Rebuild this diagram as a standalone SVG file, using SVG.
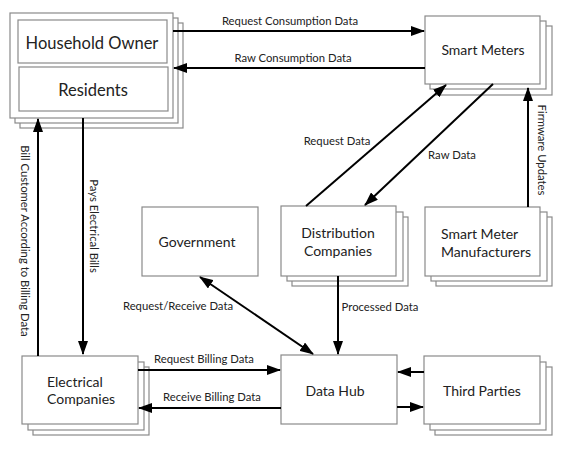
<svg xmlns="http://www.w3.org/2000/svg" width="566" height="449" viewBox="0 0 566 449">
<style>
.box{fill:#fff;stroke:#8a8a8a;stroke-width:1.2}
.t{font-family:Lato,"Open Sans",sans-serif;fill:#222}
.n{font-size:14px;text-anchor:middle}
.big{font-size:16.5px;text-anchor:middle}
.l{font-size:11.3px;text-anchor:middle}
.c{stroke:#000;stroke-width:2;fill:none}
</style>
<defs>
<marker id="ah" markerUnits="userSpaceOnUse" markerWidth="14" markerHeight="10" refX="13" refY="5" orient="auto-start-reverse"><path d="M0,0 L14,5 L0,10 z" fill="#000"/></marker>
</defs>
<rect width="566" height="449" fill="#fff"/>
<g id="household">
<rect class="box" x="20" y="23" width="163" height="105"/>
<rect class="box" x="15" y="18" width="163" height="105"/>
<rect class="box" x="10" y="13" width="163" height="105"/>
<rect class="box" x="18" y="20" width="149" height="43"/>
<text class="t big" x="92" y="49">Household Owner</text>
<rect class="box" x="19" y="67" width="149" height="44"/>
<text class="t big" x="93" y="96">Residents</text>
</g>
<g id="smartmeters">
<rect class="box" x="436" y="26" width="116" height="69"/>
<rect class="box" x="430" y="21" width="116" height="68"/>
<rect class="box" x="425" y="16" width="115" height="68"/>
<text class="t n" x="483" y="55">Smart Meters</text>
</g>
<g id="government">
<rect class="box" x="142" y="207" width="116" height="69"/>
<text class="t n" x="197" y="247">Government</text>
</g>
<g id="distribution">
<rect class="box" x="292" y="217" width="116" height="69"/>
<rect class="box" x="287" y="212" width="116" height="69"/>
<rect class="box" x="281" y="206" width="115" height="70"/>
<text class="t n" x="338" y="238">Distribution</text>
<text class="t n" x="338" y="256">Companies</text>
</g>
<g id="manufacturers">
<rect class="box" x="436" y="217" width="116" height="69"/>
<rect class="box" x="431" y="212" width="116" height="69"/>
<rect class="box" x="425" y="207" width="115" height="69"/>
<text class="t n" x="441" y="239" style="text-anchor:start">Smart Meter</text>
<text class="t n" x="441" y="257" style="text-anchor:start">Manufacturers</text>
</g>
<g id="electrical">
<rect class="box" x="33" y="367" width="116" height="68"/>
<rect class="box" x="28" y="362" width="116" height="68"/>
<rect class="box" x="22" y="356" width="116" height="68"/>
<text class="t n" x="47" y="387" style="text-anchor:start">Electrical</text>
<text class="t n" x="47" y="404" style="text-anchor:start">Companies</text>
</g>
<g id="datahub">
<rect class="box" x="281" y="355" width="116" height="69"/>
<text class="t n" x="335" y="396">Data Hub</text>
</g>
<g id="thirdparties">
<rect class="box" x="435" y="367" width="117" height="68"/>
<rect class="box" x="430" y="362" width="116" height="68"/>
<rect class="box" x="424" y="356" width="116" height="68"/>
<text class="t n" x="482" y="396">Third Parties</text>
</g>
<g id="connectors">
<line class="c" x1="173" y1="31" x2="424" y2="31" marker-end="url(#ah)"/>
<text class="t l" x="290" y="25">Request Consumption Data</text>
<line class="c" x1="425" y1="68" x2="174" y2="68" marker-end="url(#ah)"/>
<text class="t l" x="293" y="62">Raw Consumption Data</text>
<line class="c" x1="38" y1="356" x2="38" y2="119" marker-end="url(#ah)"/>
<text class="t l" transform="translate(21,241) rotate(90)">Bill Customer According to Billing Data</text>
<line class="c" x1="83" y1="118" x2="83" y2="354" marker-end="url(#ah)"/>
<text class="t l" transform="translate(90,226) rotate(90)">Pays Electrical Bills</text>
<line class="c" x1="306" y1="206" x2="446" y2="85" marker-end="url(#ah)"/>
<text class="t l" x="337" y="145">Request Data</text>
<line class="c" x1="493" y1="84" x2="365" y2="205" marker-end="url(#ah)"/>
<text class="t l" x="452" y="159">Raw Data</text>
<line class="c" x1="528" y1="207" x2="528" y2="88" marker-end="url(#ah)"/>
<text class="t l" transform="translate(538,150) rotate(90)">Firmware Updates</text>
<line class="c" x1="338" y1="276" x2="338" y2="354" marker-end="url(#ah)"/>
<text class="t l" x="380" y="311">Processed Data</text>
<line class="c" x1="200" y1="277" x2="313" y2="354" marker-start="url(#ah)" marker-end="url(#ah)"/>
<text class="t l" x="178" y="310">Request/Receive Data</text>
<line class="c" x1="138" y1="370" x2="280" y2="370" marker-end="url(#ah)"/>
<text class="t l" x="204" y="363">Request Billing Data</text>
<line class="c" x1="281" y1="408" x2="139" y2="408" marker-end="url(#ah)"/>
<text class="t l" x="212" y="401">Receive Billing Data</text>
<line class="c" x1="424" y1="372" x2="398" y2="372" marker-end="url(#ah)"/>
<line class="c" x1="397" y1="407" x2="423" y2="407" marker-end="url(#ah)"/>
</g>
</svg>
